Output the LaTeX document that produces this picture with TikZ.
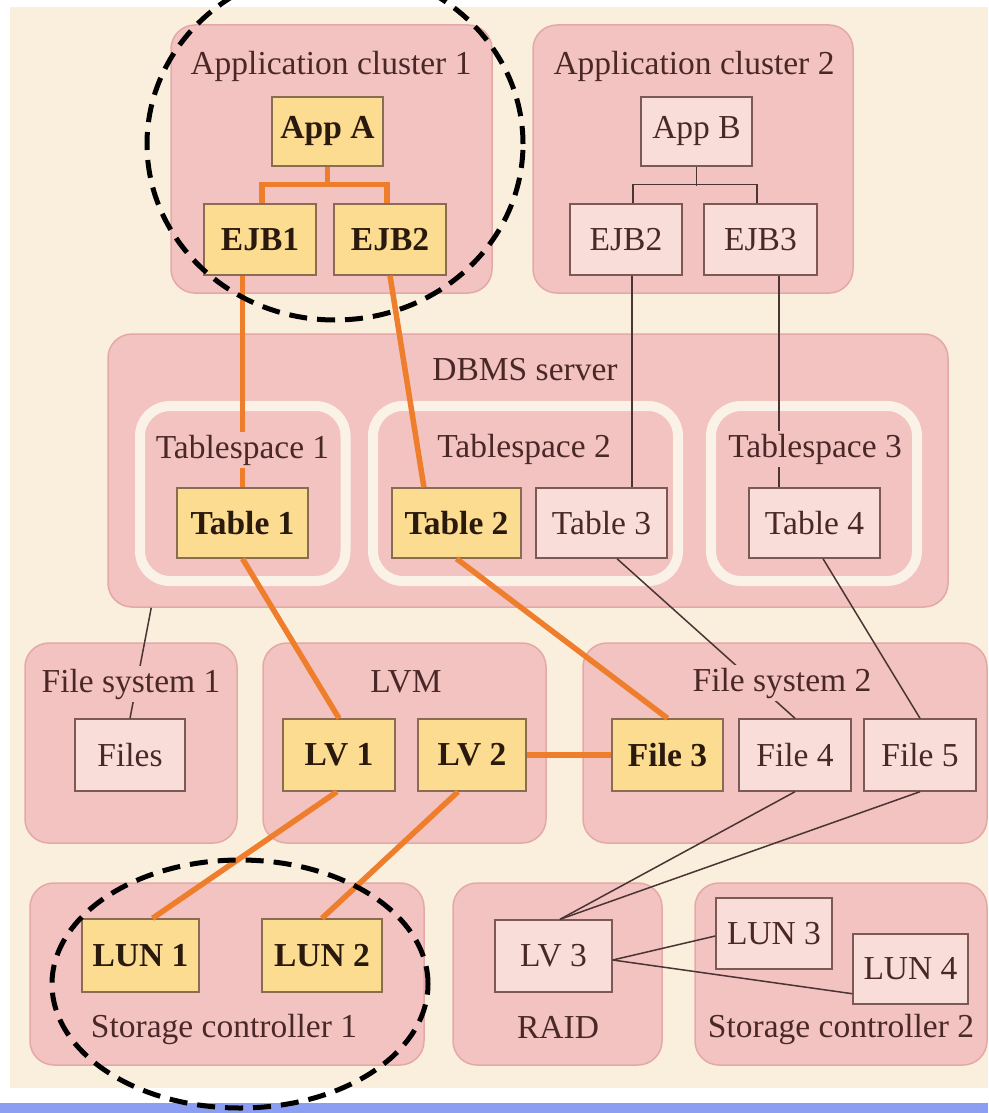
\documentclass[tikz,border=0pt]{standalone}
\usepackage{fontspec}
\setmainfont{Liberation Serif}
\usetikzlibrary{calc}

\definecolor{cream}{HTML}{FAEEDD}
\definecolor{ringC}{HTML}{FBF2E7}
\definecolor{contFill}{HTML}{F2C3C0}
\definecolor{contEdge}{HTML}{E4A9A7}
\definecolor{yFill}{HTML}{FCDC90}
\definecolor{yEdge}{HTML}{8A6C52}
\definecolor{pFill}{HTML}{F9DDD9}
\definecolor{pEdge}{HTML}{7D5955}
\definecolor{txt}{HTML}{4A2828}
\definecolor{boldTxt}{HTML}{2A1A0E}
\definecolor{hotC}{HTML}{EF7E2C}
\definecolor{wireC}{HTML}{4A3434}
\definecolor{stripC}{HTML}{8C9EF2}

\newcommand{\diagfont}{\fontsize{33.5}{38}\selectfont}

\begin{document}
\begin{tikzpicture}[x=1pt,y=-1pt,
  every node/.style={font=\diagfont},
  cont/.style={draw=contEdge, line width=1.5pt, fill=contFill, rounded corners=24pt, inner sep=0pt},
  ring/.style={draw=ringC, line width=10pt, fill=contFill, rounded corners=30pt, inner sep=0pt},
  ybox/.style={draw=yEdge, line width=1.4pt, fill=yFill, text=boldTxt, inner sep=0pt,
               font=\diagfont\bfseries},
  pbox/.style={draw=pEdge, line width=1.4pt, fill=pFill, text=txt, inner sep=0pt},
  lbl/.style={text=txt, fill=contFill, inner sep=3pt, anchor=base},
  hot/.style={draw=hotC, line width=5.5pt},
  wire/.style={draw=wireC, line width=1.5pt},
  hilite/.style={draw=black, line width=5pt, dash pattern=on 18pt off 10pt}]

\useasboundingbox (0,0) rectangle (988,1113);
\clip (0,0) rectangle (988,1113);

% page ground and the rule at the foot
\fill[cream] (10,7) rectangle (988,1088);
\fill[stripC] (0,1103) rectangle (988,1113);

% ---------- containers ----------
\node[cont, minimum width=321pt, minimum height=268pt] (ac1)  at (331.5,159) {};
\node[cont, minimum width=320pt, minimum height=268pt] (ac2)  at (693,159) {};
\node[cont, minimum width=840pt, minimum height=273pt] (dbms) at (528,470.5) {};
\node[ring, minimum width=205.5pt, minimum height=175pt] (ts1) at (242.75,493.5) {};
\node[ring, minimum width=305pt, minimum height=175pt] (ts2) at (525.5,493.5) {};
\node[ring, minimum width=206pt, minimum height=175pt] (ts3) at (814,493.5) {};
\node[cont, minimum width=212pt, minimum height=200pt] (fs1)  at (131,743) {};
\node[cont, minimum width=283pt, minimum height=200pt] (lvm)  at (404.5,743) {};
\node[cont, minimum width=404pt, minimum height=200pt] (fs2)  at (785,743) {};
\node[cont, minimum width=394pt, minimum height=182pt] (sc1)  at (227,974) {};
\node[cont, minimum width=209pt, minimum height=182pt] (raid) at (557.5,974) {};
\node[cont, minimum width=292pt, minimum height=182pt] (sc2)  at (841,974) {};

% ---------- components ----------
\node[ybox, minimum width=111pt, minimum height=69pt] (appA)  at (327.5,131.5) {App A};
\node[ybox, minimum width=112pt, minimum height=71pt] (ejb1)  at (260,239.5) {EJB1};
\node[ybox, minimum width=112pt, minimum height=71pt] (ejb2a) at (390,239.5) {EJB2};
\node[pbox, minimum width=111pt, minimum height=69pt] (appB)  at (696.5,131.5) {App B};
\node[pbox, minimum width=112pt, minimum height=71pt] (ejb2b) at (626,239.5) {EJB2};
\node[pbox, minimum width=113pt, minimum height=71pt] (ejb3)  at (760.5,239.5) {EJB3};

\node[ybox, minimum width=131pt, minimum height=70pt] (tab1) at (242.5,523) {Table 1};
\node[ybox, minimum width=129pt, minimum height=70pt] (tab2) at (456.5,523) {Table 2};
\node[pbox, minimum width=131pt, minimum height=70pt] (tab3) at (601.5,523) {Table 3};
\node[pbox, minimum width=131pt, minimum height=70pt] (tab4) at (814.5,523) {Table 4};

\node[pbox, minimum width=110pt, minimum height=72pt] (files) at (130,755) {Files};
\node[ybox, minimum width=112pt, minimum height=72pt] (lv1)   at (339,755) {LV 1};
\node[ybox, minimum width=108pt, minimum height=72pt] (lv2)   at (472,755) {LV 2};
\node[ybox, minimum width=111pt, minimum height=72pt] (file3) at (667.5,755) {File 3};
\node[pbox, minimum width=112pt, minimum height=72pt] (file4) at (795,755) {File 4};
\node[pbox, minimum width=112pt, minimum height=72pt] (file5) at (920,755) {File 5};

\node[ybox, minimum width=117pt, minimum height=73pt] (lun1) at (140.5,955.5) {LUN 1};
\node[ybox, minimum width=120pt, minimum height=73pt] (lun2) at (322,955.5) {LUN 2};
\node[pbox, minimum width=117pt, minimum height=72pt] (lv3)  at (553.5,956) {LV 3};
\node[pbox, minimum width=116pt, minimum height=71pt] (lun3) at (774,933.5) {LUN 3};
\node[pbox, minimum width=115pt, minimum height=70pt] (lun4) at (910.5,969) {LUN 4};

% ---------- connectors ----------
% application trees
\draw[hot] (appA.south) -- ++(0,19);
\draw[hot] ($(ejb1.north)+(2,0)$) -- ++(0,-19) -| ($(ejb2a.north)+(-3,0)$);
\draw[wire] (appB.south) -- ++(0,19);
\draw[wire] ($(ejb2b.north)+(7,0)$) -- ++(0,-19) -| ($(ejb2b.north)+(131,0)$);

% beans to tables
\draw[hot] (tab1.north |- ejb1.south) -- (tab1.north);
\draw[hot] (ejb2a.south) -- ($(tab2.north west)!0.25!(tab2.north east)$);
\path ($(ejb2b.south)+(6,0)$) coordinate (e2foot);
\draw[wire] (e2foot) -- (e2foot |- tab3.north);
\path ($(ejb3.south)+(18.5,0)$) coordinate (e3foot);
\draw[wire, line width=2.2pt] (e3foot) -- (e3foot |- tab4.north);

% tables to volumes and files
\draw[hot] (tab1.south) -- (lv1.north);
\draw[hot] (tab2.south) -- (file3.north);
\draw[hot] (lv2.east) -- (file3.west);
\draw[wire] ($(tab3.south)+(15.5,0)$) -- (file4.north);
\draw[wire] ($(tab4.south)+(8.5,0)$) -- (file5.north);
\draw[wire] ($(dbms.south west)+(44,0)$) -- (files.north);

% volumes to storage
\draw[hot] ($(lv1.south)+(-2,0)$) -- ($(lun1.north)+(12,0)$);
\draw[hot] ($(lv2.south)+(-14,0)$) -- (lun2.north);
\draw[wire] (file4.south) -- ($(lv3.north)+(6.5,0)$);
\draw[wire] (file5.south) -- ($(lv3.north)+(6.5,0)$);
\draw[wire] ($(lv3.east)+(0,4)$) -- ($(lun3.west)+(0,2.5)$);
\draw[wire] ($(lv3.east)+(0,4)$) -- ($(lun4.south west)+(0,-11)$);

% ---------- container titles ----------
\node[lbl] (ac1t)  at (331,75)   {Application cluster 1};
\node[lbl] (ac2t)  at (694,75)   {Application cluster 2};
\node[lbl] (dbmst) at (525,380)  {DBMS server};
\node[lbl] (ts1t)  at (242.5,458) {Tablespace 1};
\node[lbl] (ts2t)  at (524,457)  {Tablespace 2};
\node[lbl] (ts3t)  at (815,457)  {Tablespace 3};
\node[lbl] (fs1t)  at (131,692)  {File system 1};
\node[lbl] (lvmt)  at (406,692)  {LVM};
\node[lbl] (fs2t)  at (782,691)  {File system 2};
\node[lbl] (sc1t)  at (224,1037) {Storage controller 1};
\node[lbl] (raidt) at (558,1038) {RAID};
\node[lbl] (sc2t)  at (841,1037) {Storage controller 2};

% ---------- highlighted groups ----------
\draw[hilite] (335,144) ellipse [x radius=188pt, y radius=176pt];
\draw[hilite] (240,984) ellipse [x radius=188pt, y radius=124pt];
\end{tikzpicture}
\end{document}
